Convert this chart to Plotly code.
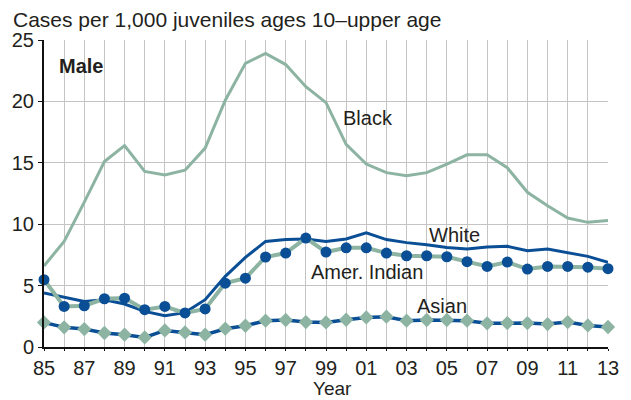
import plotly.graph_objects as go

years = list(range(1985, 2014))
black = [6.6, 8.6, 11.8, 15.1, 16.4, 14.3, 14.0, 14.4, 16.2, 20.1, 23.1, 23.9, 23.0, 21.2,
         19.9, 16.5, 14.9, 14.2, 13.95, 14.2, 14.9, 15.65, 15.65, 14.6, 12.6, 11.5, 10.5, 10.15, 10.3]
white = [4.4, 4.07, 3.7, 3.85, 3.5, 2.9, 2.55, 2.8, 3.85, 5.75, 7.3, 8.6, 8.75, 8.8,
         8.6, 8.8, 9.3, 8.75, 8.5, 8.33, 8.1, 7.98, 8.14, 8.2, 7.84, 7.98, 7.65, 7.38, 6.9]
amer_indian = [5.48, 3.3, 3.36, 3.93, 3.98, 3.04, 3.3, 2.77, 3.1, 5.2, 5.6, 7.33, 7.65, 8.87,
               7.73, 8.08, 8.08, 7.65, 7.43, 7.43, 7.35, 6.95, 6.56, 6.92, 6.35, 6.56, 6.56, 6.5, 6.38]
asian = [2.0, 1.6, 1.46, 1.14, 1.0, 0.78, 1.35, 1.19, 1.0, 1.49, 1.73, 2.14, 2.2, 2.03,
         2.0, 2.22, 2.41, 2.47, 2.14, 2.2, 2.2, 2.14, 1.93, 1.95, 1.95, 1.87, 2.03, 1.76, 1.63]
tick_text = [f"{y % 100:02d}" if (y - 1985) % 2 == 0 else "" for y in years]
y_ticks = [0, 5, 10, 15, 20, 25]

GREEN = "#8db4a2"
BLUE = "#0a4f95"
TXT = "#231f20"
FONT = "Liberation Sans, Arial, Helvetica, sans-serif"

W, H = 631, 400
ML, MR, MT, MB = 42, 13, 40, 53
PW, PH = W - ML - MR, H - MT - MB


def px(x):
    return (x - ML) / PW


def py(y):
    return (H - MB - y) / PH


fig = go.Figure()
fig.add_trace(go.Scatter(x=years, y=black, mode="lines", line=dict(color=GREEN, width=3),
                         cliponaxis=False, showlegend=False))
fig.add_trace(go.Scatter(x=years, y=white, mode="lines", line=dict(color=BLUE, width=3),
                         cliponaxis=False, showlegend=False))
fig.add_trace(go.Scatter(x=years, y=amer_indian, mode="lines+markers",
                         line=dict(color=GREEN, width=4),
                         marker=dict(symbol="circle", size=11, color=BLUE),
                         cliponaxis=False, showlegend=False))
fig.add_trace(go.Scatter(x=years, y=asian, mode="lines+markers",
                         line=dict(color=BLUE, width=3.5),
                         marker=dict(symbol="diamond", size=11, color=GREEN),
                         cliponaxis=False, showlegend=False))

labels = [
    ("Male", 55, 64, True),
    ("Black", 345, 116.5, False),
    ("White", 433, 233, False),
    ("Amer. Indian", 312.5, 270.5, False),
    ("Asian", 420.5, 304.5, False),
]
for text, lx, ly, bold in labels:
    fig.add_annotation(x=px(lx), y=py(ly + 1.5), xref="paper", yref="paper",
                       text=f"<b>{text}</b>" if bold else text, showarrow=False,
                       xanchor="left", yanchor="middle",
                       font=dict(family=FONT, size=20, color=TXT))

fig.add_annotation(x=px(8), y=py(19.5), xref="paper", yref="paper",
                   text="Cases per 1,000 juveniles ages 10\u2013upper age", showarrow=False,
                   xanchor="left", yanchor="middle",
                   font=dict(family=FONT, size=21, color=TXT))
fig.add_annotation(x=px(337), y=py(401), xref="paper", yref="paper",
                   text="Year", showarrow=False, xanchor="center", yanchor="bottom",
                   font=dict(family=FONT, size=19, color=TXT))

fig.update_layout(
    width=W, height=H,
    margin=dict(l=ML, r=MR, t=MT, b=MB, pad=0),
    paper_bgcolor="white", plot_bgcolor="white",
    font=dict(family=FONT, size=20, color=TXT),
    xaxis=dict(range=[1985, 2013], tickvals=years, ticktext=tick_text,
               showgrid=True, gridcolor="#c4c4c4", gridwidth=1,
               showline=True, linecolor="#111", linewidth=2,
               ticks="outside", ticklen=2, tickcolor="#111", tickwidth=1,
               tickfont=dict(size=20, color=TXT), zeroline=False, fixedrange=True),
    yaxis=dict(range=[0, 25], tickvals=y_ticks,
               showgrid=True, gridcolor="#c4c4c4", gridwidth=1,
               showline=True, linecolor="#111", linewidth=2,
               ticks="outside", ticklen=4, tickcolor="#111", tickwidth=1,
               tickfont=dict(size=20, color=TXT), zeroline=False, fixedrange=True),
)

fig.write_html("out.html", config=dict(displayModeBar=False),
               post_script="document.body.style.margin='0';document.body.style.overflow='hidden';")
